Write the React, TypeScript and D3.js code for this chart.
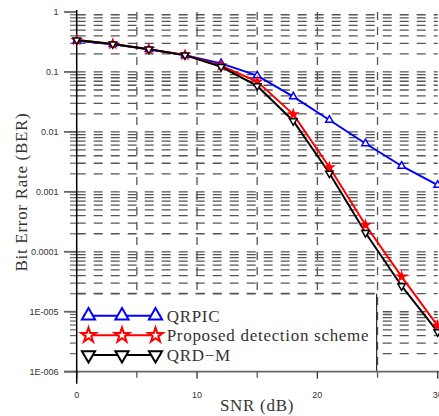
import React from "react";
import * as d3 from "d3";

// SNR (dB) sample points
const snr = [0, 3, 6, 9, 12, 15, 18, 21, 24, 27, 30];
// BER per scheme
const qrpic = [0.33, 0.29, 0.238, 0.19, 0.139, 0.087, 0.0387, 0.0158, 0.0064, 0.0027, 0.0013];
const proposed = [0.34, 0.292, 0.24, 0.192, 0.127, 0.069, 0.0196, 0.00257, 0.00028, 0.0000385, 0.0000058];
const qrdm = [0.34, 0.292, 0.239, 0.191, 0.122, 0.0585, 0.0152, 0.00204, 0.000208, 0.0000269, 0.0000046];

const yTickValues = [1, 0.1, 0.01, 0.001, 0.0001, 0.00001, 0.000001];
const yTickLabels = ["1", "0.1", "0.01", "0.001", "0.0001", "1E-005", "1E-006"];
const xTickValues = [0, 10, 20, 30];
const xMinorTicks = [5, 15, 25];
const xGrid = [5, 10, 15, 20, 25];

const seriesNames = ["QRPIC", "Proposed detection scheme", "QRD\u2212M"];

const W = 439;
const H = 416;

const x = d3.scaleLinear().domain([0, 30]).range([76.7, 437.7]);
const y = d3.scaleLog().domain([1e-6, 1]).range([371.7, 12]);

const triUp = d3.symbol().type(d3.symbolTriangle);
const star = d3.symbol().type(d3.symbolStar);

const series = [
	{ name: seriesNames[0], values: qrpic, color: "#0000ff", marker: "up" },
	{ name: seriesNames[1], values: proposed, color: "#ff0000", marker: "star" },
	{ name: seriesNames[2], values: qrdm, color: "#000000", marker: "down" },
];

const serif = "Liberation Serif, Times New Roman, serif";
const sans = "Liberation Sans, Arial, sans-serif";

const Marker = ({ kind, cx, cy, size, color, sw, fillStar }) => {
	if (kind === "star") {
		return (
			<path
				d={star.size(size * 0.9)()}
				transform={`translate(${cx},${cy})`}
				fill={fillStar ? color : "white"}
				stroke={color}
				strokeWidth={sw}
			/>
		);
	}
	const rot = kind === "down" ? 180 : 0;
	return (
		<path
			d={triUp.size(size)()}
			transform={`translate(${cx},${cy}) rotate(${rot})`}
			fill="white"
			stroke={color}
			strokeWidth={sw}
		/>
	);
};

const App = () => {
	// log gridlines, 1..9 per decade
	const hGrid = [];
	for (let e = -6; e < 0; e++) {
		for (let k = 1; k <= 9; k++) {
			const v = k * Math.pow(10, e);
			if (v > 1e-6) hGrid.push(v);
		}
	}

	const line = d3
		.line()
		.x((d) => x(d[0]))
		.y((d) => y(d[1]));

	const [x0, x1] = x.range();
	const [yb, yt] = y.range();

	// legend box
	const legTop = y(2e-5);
	const legRight = 376.7;
	const legRows = [315.7, 335.3, 355];

	return (
		<svg
			width={W}
			height={H}
			style={{ position: "absolute", left: 0, top: 0, background: "white" }}
		>
			<rect width={W} height={H} fill="white" />

			{/* horizontal dashed grid */}
			{hGrid.map((v, i) => (
				<line
					key={"h" + i}
					x1={x0}
					x2={x1}
					y1={y(v)}
					y2={y(v)}
					stroke="#555"
					strokeWidth={1.3}
					strokeDasharray="9,8"
				/>
			))}
			{/* vertical dashed grid */}
			{xGrid.map((v) => (
				<line
					key={"v" + v}
					x1={x(v)}
					x2={x(v)}
					y1={yt}
					y2={yb}
					stroke="#555"
					strokeWidth={1.3}
					strokeDasharray="8,7"
				/>
			))}

			{/* legend */}
			<rect x={x0} y={legTop} width={legRight - x0} height={yb - legTop} fill="white" />
			<line x1={legRight} x2={legRight} y1={legTop} y2={yb} stroke="#000" strokeWidth={1} />
			<line
				x1={x0}
				x2={legRight}
				y1={legTop}
				y2={legTop}
				stroke="#555"
				strokeWidth={1.8}
				strokeDasharray="9,8"
			/>

			{/* y axis minor ticks */}
			{hGrid.map((v, i) => (
				<line key={"yt" + i} x1={70} x2={x0} y1={y(v)} y2={y(v)} stroke="#666" strokeWidth={1.2} />
			))}
			{yTickValues.map((v, i) => (
				<g key={"ym" + i}>
					<line x1={64} x2={x0} y1={y(v)} y2={y(v)} stroke="#666" strokeWidth={1.8} />
					<text
						x={58.5}
						y={y(v)}
						dy="0.35em"
						textAnchor="end"
						fontFamily={sans}
						fontSize={9}
						fill="#333"
					>
						{yTickLabels[i]}
					</text>
				</g>
			))}

			{/* bottom axis */}
			<line x1={64} x2={W} y1={yb} y2={yb} stroke="#666" strokeWidth={1.8} />
			{xMinorTicks.map((v) => (
				<line key={"xm" + v} x1={x(v)} x2={x(v)} y1={yb} y2={yb + 6} stroke="#555" strokeWidth={1.3} />
			))}
			{xTickValues.map((v) => (
				<g key={"xt" + v}>
					<line x1={x(v)} x2={x(v)} y1={yb} y2={yb + 7} stroke="#333" strokeWidth={1.3} />
					<text
						x={x(v)}
						y={398}
						textAnchor="middle"
						fontFamily={sans}
						fontSize={9}
						fill="#333"
					>
						{v}
					</text>
				</g>
			))}

			{/* left axis line */}
			<line x1={x0} x2={x0} y1={yt - 2} y2={yb + 12} stroke="#000" strokeWidth={1.5} />

			{/* series lines */}
			{series.map((s) => (
				<path
					key={s.name}
					d={line(snr.map((v, i) => [v, s.values[i]]))}
					fill="none"
					stroke={s.color}
					strokeWidth={2}
				/>
			))}
			{series.map((s) =>
				snr.map((v, i) => (
					<Marker
						key={s.name + i}
						kind={s.marker}
						cx={x(v)}
						cy={y(s.values[i])}
						size={24}
						color={s.color}
						sw={1.5}
						fillStar={true}
					/>
				))
			)}

			{/* legend entries */}
			{series.map((s, i) => (
				<g key={"leg" + i}>
					<line x1={83} x2={161} y1={legRows[i]} y2={legRows[i]} stroke={s.color} strokeWidth={2} />
					{[88.5, 122, 155.5].map((mx) => (
						<Marker key={mx} kind={s.marker} cx={mx} cy={legRows[i]} size={75} color={s.color} sw={2} fillStar={false} />
					))}
					<text
						x={166.7}
						y={legRows[i]}
						dy="0.35em"
						fontFamily={serif}
						fontSize={17}
						letterSpacing={0.7}
						fill="#333"
					>
						{s.name}
					</text>
				</g>
			))}

			{/* axis titles */}
			<text
				x={257}
				y={411}
				textAnchor="middle"
				fontFamily={serif}
				fontSize={17}
				letterSpacing={0.7}
				fill="#333"
			>
				SNR (dB)
			</text>
			<text
				transform={`translate(27,192) rotate(-90)`}
				textAnchor="middle"
				fontFamily={serif}
				fontSize={17}
				letterSpacing={0.7}
				fill="#333"
			>
				Bit Error Rate (BER)
			</text>
		</svg>
	);
};

export default App;
